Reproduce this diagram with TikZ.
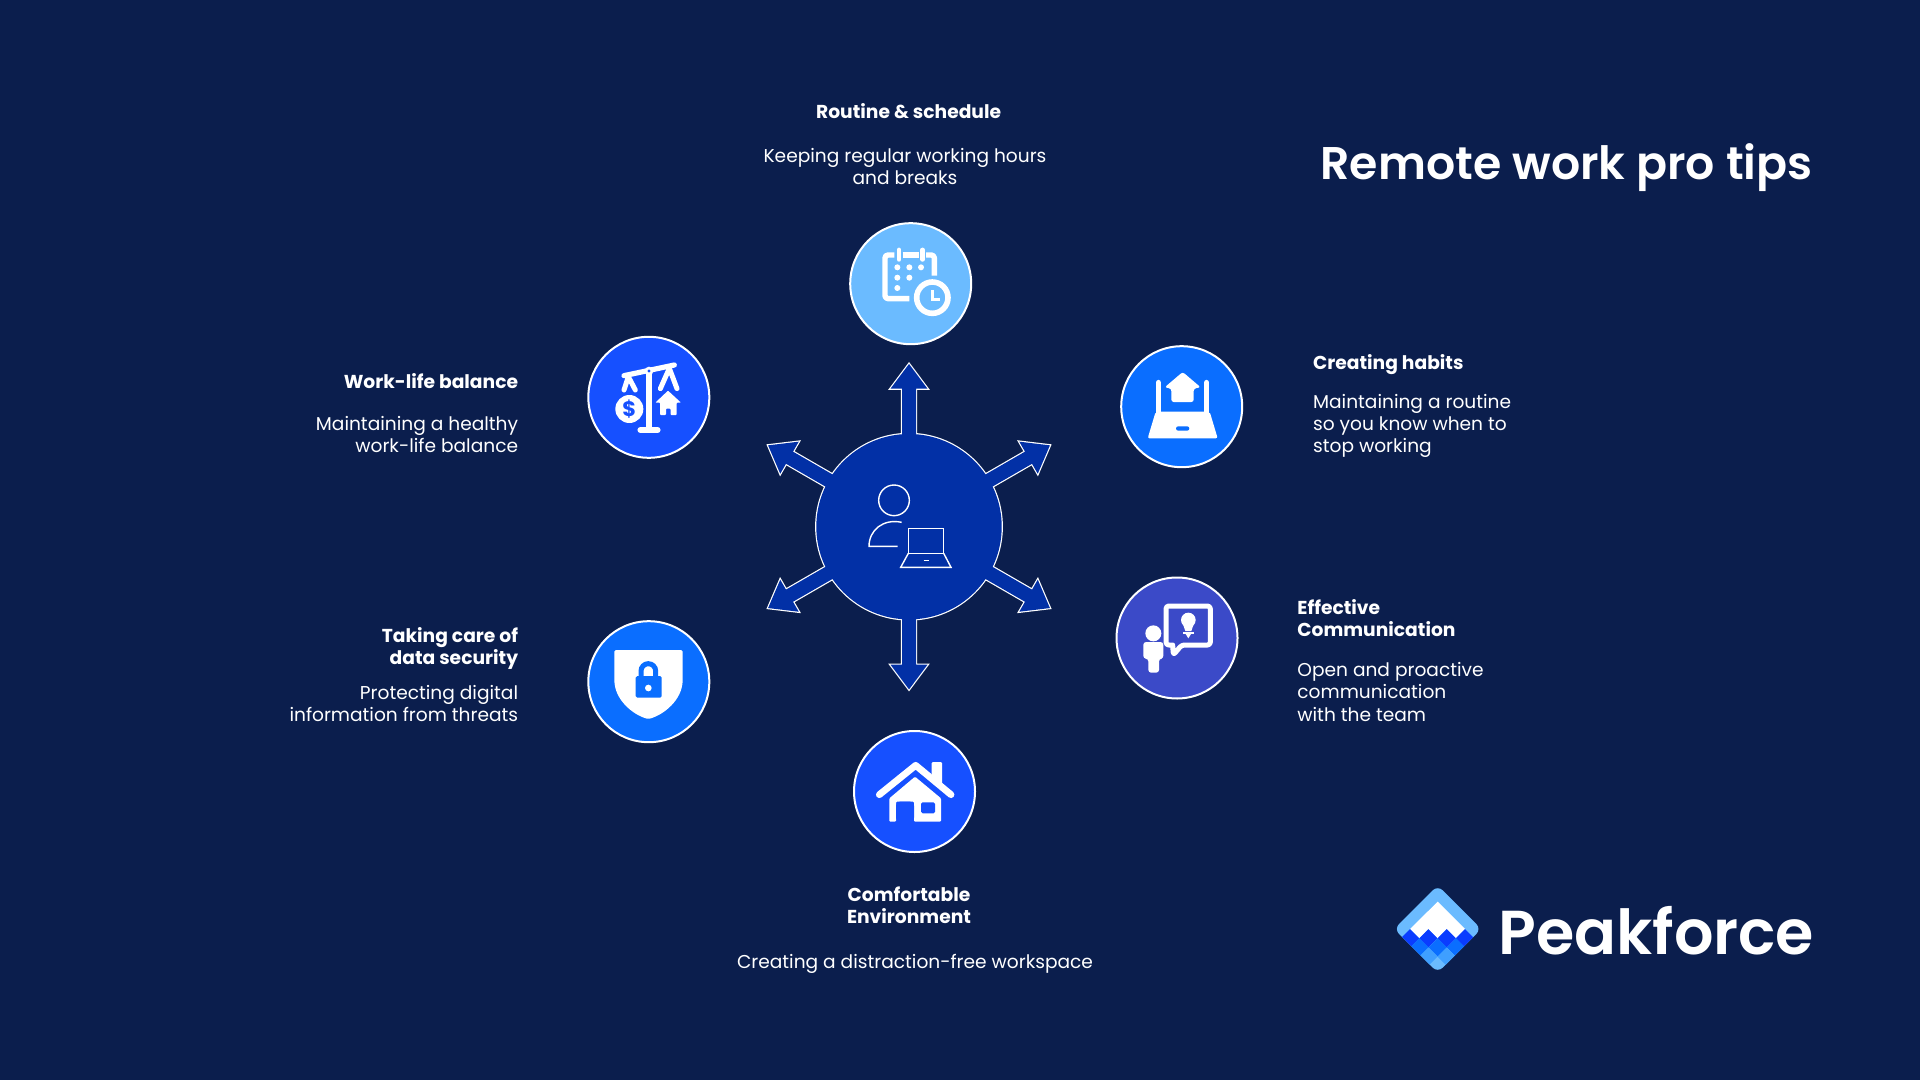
\documentclass[tikz,border=0pt]{standalone}
\usepackage{fontspec}
\setmainfont{Poppins}
\newfontfamily\semifont{Poppins SemiBold}
\definecolor{bgc}{HTML}{0B1E4D}
\definecolor{hubc}{HTML}{0230A6}
\definecolor{skyc}{HTML}{6BBBFF}
\definecolor{royalc}{HTML}{1650FF}
\definecolor{azurec}{HTML}{0A6EFF}
\definecolor{indigoc}{HTML}{3B4AC8}
\definecolor{deepc}{HTML}{0A3CFF}
\definecolor{midc}{HTML}{3F9FFF}
\tikzset{
  badge/.style={circle,draw=white,line width=1pt,minimum size=60.5pt,inner sep=0pt},
  head/.style={text=white,font=\fontsize{9.35}{11}\selectfont\bfseries,inner sep=0pt},
  body/.style={text=white,font=\fontsize{9.3}{11}\selectfont,inner sep=0pt},
  zoomed/.style={x=0.16667pt,y=-0.16667pt},
  ico/.style={draw=white,line cap=round,line join=round},
}
\begin{document}
\begin{tikzpicture}[x=0.5pt,y=-0.5pt]
\useasboundingbox (0,0) rectangle (1920,1080);
\fill[bgc] (0,0) rectangle (1920,1080);

% hub with six arrows: white outline layer, then fill layer
\begin{scope}[draw=white,line width=1.2pt,line join=miter]
\foreach \a in {0,60,120,180,240,300}{
  \draw[rotate around={\a:(909,526.7)}] (909-7,526.7) -- (909-7,388.7) -- (909-18.5,388.7) -- (909,364) -- (909+18.5,388.7) -- (909+7,388.7) -- (909+7,526.7) -- cycle;}
\draw (909,526.7) circle[radius=92.7];
\end{scope}
\foreach \a in {0,60,120,180,240,300}{
  \fill[hubc,rotate around={\a:(909,526.7)}] (909-7,526.7) -- (909-7,388.7) -- (909-18.5,388.7) -- (909,364) -- (909+18.5,388.7) -- (909+7,388.7) -- (909+7,526.7) -- cycle;}
\node[circle,fill=hubc,minimum size=92.7pt,inner sep=0pt] (hub) at (909,526.7) {};

% hub icon
\begin{scope}[shift={(740,340)},zoomed,draw=white,line width=0.7pt]
\draw (462,481) circle[radius=46];
\draw (485,547) .. controls (430,535) and (387,570) .. (387,619) -- (473,619);
\draw (505,640) -- (505,565) -- (611,565) -- (611,640) -- cycle;
\draw (505,640) -- (482,682) -- (633,682) -- (611,640);
\draw (551,661) -- (566,661);
\end{scope}

% badges
\node[badge,fill=skyc] (routine) at (910.7,283.7) {};
\node[badge,fill=royalc] (balance) at (648.8,397.3) {};
\node[badge,fill=azurec] (habits) at (1181.7,406.7) {};
\node[badge,fill=indigoc] (comm) at (1177,638) {};
\node[badge,fill=azurec] (security) at (648.8,681.7) {};
\node[badge,fill=royalc] (comfort) at (914.5,791.5) {};

% calendar icon
\begin{scope}[shift={(840,210)},zoomed]
\draw[ico,line width=2.7pt,line cap=butt,rounded corners=1.5pt] (163,135) -- (135,135) -- (135,266) -- (208,266);
\draw[ico,line width=2.7pt,line cap=butt] (188,135) -- (238,135);
\draw[ico,line width=2.7pt,line cap=butt,rounded corners=1.5pt] (258,135) -- (283,135) -- (283,197);
\draw[ico,line width=2.4pt] (177,120) -- (177,148);
\draw[ico,line width=2.4pt] (248,120) -- (248,148);
\foreach \p in {(172,172),(208,172),(243,172),(172,203),(208,203),(172,234)}{\fill[white] \p circle[radius=9];}
\draw[white,line width=2.8pt,fill=skyc] (277,263) circle[radius=47];
\draw[ico,line width=1.5pt,line cap=butt,line join=miter] (277,240) -- (277,267) -- (301,267);
\end{scope}

% balance icon
\begin{scope}[shift={(580,330)},zoomed]
\draw[ico,line width=2.6pt] (132,137) -- (283,105);
\draw[ico,line width=2.6pt] (207,123) -- (207,300);
\draw[ico,line width=2.9pt] (181,300) -- (233,300);
\draw[ico,line width=2.5pt] (132,180) -- (145,140) -- (166,180);
\draw[ico,line width=2.5pt] (241,176) -- (268,115) -- (291,176);
\fill[white] (207,123) circle[radius=13];
\fill[royalc] (207,123) circle[radius=5];
\node[circle,fill=white,minimum size=14pt,inner sep=0pt,text=royalc,font=\fontsize{10.5}{11}\selectfont\bfseries] (coin) at (148,237) {\$};
\fill[white,rounded corners=0.4pt] (264,182) -- (303,218) -- (290,218) -- (290,255) -- (272,255) -- (272,236) -- (258,236) -- (258,255) -- (240,255) -- (240,218) -- (226,218) -- cycle;
\end{scope}

% habits icon
\begin{scope}[shift={(1110,340)},zoomed]
\fill[white,rounded corners=1pt] (137,215) -- (299,215) -- (323,295) -- (113,295) -- cycle;
\draw[ico,line width=2.8pt] (145,128) -- (145,225);
\draw[ico,line width=2.8pt] (290,128) -- (290,225);
\fill[azurec,rounded corners=1.1pt] (198,259) rectangle (238,272);
\fill[white,rounded corners=1.2pt] (218,96) -- (272,142) -- (251,146) -- (251,186) -- (184,186) -- (184,146) -- (164,142) -- cycle;
\end{scope}

% communication icon
\begin{scope}[shift={(1110,570)},zoomed]
\fill[white] (130,190) circle[radius=24];
\fill[white,rounded corners=1.4pt] (100,266) -- (100,216) -- (160,216) -- (160,266) -- (147,266) -- (147,308) -- (115,308) -- (115,266) -- cycle;
\draw[ico,line width=2.5pt,rounded corners=1.4pt] (188,225) -- (168,225) -- (168,108) -- (301,108) -- (301,225) -- (215,225) -- (190,255) -- (188,225);
\fill[white] (235,150) circle[radius=22];
\fill[white] (218,160) -- (252,160) -- (244,183) -- (226,183) -- cycle;
\fill[white] (219,186) rectangle (251,192);
\fill[white] (227,192) -- (243,192) -- (235,205) -- cycle;
\end{scope}

% shield icon
\begin{scope}[shift={(580,610)},zoomed]
\fill[white,rounded corners=0.8pt] (103,120) -- (308,120) -- (308,205) .. controls (308,270) and (250,315) .. (205,327) .. controls (160,315) and (103,270) .. (103,205) -- cycle;
\draw[azurec,line width=2.5pt] (183,205) -- (183,183) arc[start angle=180,end angle=360,radius=22] -- (227,205);
\fill[azurec,rounded corners=0.8pt] (167,198) rectangle (245,263);
\fill[white] (205,234) circle[radius=10];
\end{scope}

% home icon
\begin{scope}[shift={(845,720)},zoomed]
\fill[white,rounded corners=0.6pt] (260,126) -- (291,126) -- (291,192) -- (260,165) -- cycle;
\draw[white,line width=3.4pt,line cap=round,line join=round] (103,224) -- (212,136) -- (318,224);
\fill[white,rounded corners=0.5pt] (210,170) -- (288,235) -- (288,305) -- (207,305) -- (207,245) -- (153,245) -- (153,305) -- (133,305) -- (133,235) -- cycle;
\fill[royalc,rounded corners=0.8pt] (228,247) rectangle (270,280);
\fill[royalc,rounded corners=2pt] (153,305) -- (153,245) -- (207,245) -- (207,305) -- cycle;
\end{scope}

% logo
\begin{scope}[shift={(1380,870)},zoomed]
\begin{scope}
\clip[rounded corners=3.5pt] (173,46) -- (304,177) -- (173,308) -- (42,177) -- cycle;
\fill[skyc] (30,30) rectangle (320,320);
\fill[white] (173,95) -- (255,177) -- (228,205) -- (200,177) -- (173,205) -- (145,177) -- (118,205) -- (90,177) -- cycle;
\foreach \c in {90,145,200,255}{\fill[deepc] (\c,177.5) -- (\c+27.5,205) -- (\c,232.5) -- (\c-27.5,205) -- cycle;}
\foreach \c in {118,173,228}{\fill[azurec] (\c,205) -- (\c+27.5,232.5) -- (\c,260) -- (\c-27.5,232.5) -- cycle;}
\foreach \c in {145,200}{\fill[midc] (\c,232.5) -- (\c+27.5,260) -- (\c,287.5) -- (\c-27.5,260) -- cycle;}
\end{scope}
\end{scope}

% texts
\node[text=white,font=\fontsize{22.9}{24}\selectfont\semifont,anchor=base east,inner sep=0pt] (title) at (1813,179.5) {Remote work pro tips};
\node[text=white,font=\fontsize{31}{36}\selectfont\semifont,anchor=base west,inner sep=0pt] (brand) at (1498,954) {Peakforce};

\node[head,align=center] (t1) at (908.6,111.4) {Routine \& schedule};
\node[body,align=center] (d1) at (905,166.5) {Keeping regular working hours\\and breaks};
\node[head,anchor=east] (t2) at (518.5,381) {Work-life balance};
\node[body,align=right,anchor=east] (d2) at (518.5,434.7) {Maintaining a healthy\\work-life balance};
\node[head,anchor=west] (t3) at (1312.7,365) {Creating habits};
\node[body,align=left,anchor=west] (d3) at (1312.7,426) {Maintaining a routine\\so you know when to\\stop working};
\node[head,align=left,anchor=west] (t4) at (1297,618) {Effective\\Communication};
\node[body,align=left,anchor=west] (d4) at (1297,692) {Open and proactive\\communication\\with the team};
\node[head,align=right,anchor=east] (t5) at (518.5,648) {Taking care of\\data security};
\node[body,align=right,anchor=east] (d5) at (518.5,704) {Protecting digital\\information from threats};
\node[head,align=center] (t6) at (909,905.5) {Comfortable\\Environment};
\node[body,align=center] (d6) at (915,963.5) {Creating a distraction-free workspace};
\end{tikzpicture}
\end{document}
